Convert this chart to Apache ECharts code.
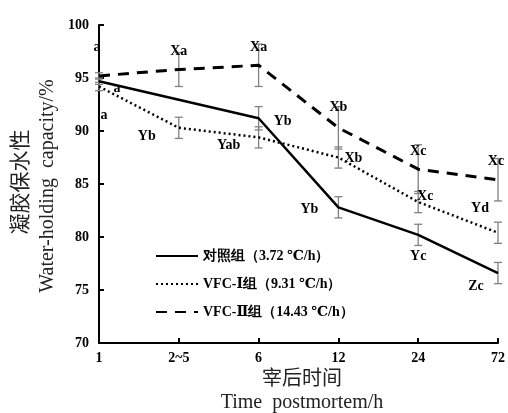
<!DOCTYPE html>
<html><head><meta charset="utf-8">
<script src="https://cdn.jsdelivr.net/npm/echarts@6/dist/echarts.min.js"></script>
<style>html,body{margin:0;padding:0;background:#fff}#c{width:508px;height:413px}</style>
</head><body><div id="c"></div>
<script>
const categories = ['1', '2~5', '6', '12', '24', '72'];
const seriesNames = ['对照组（3.72 ℃/h）', 'VFC-Ⅰ组（9.31 ℃/h）', 'VFC-Ⅱ组（14.43 ℃/h）'];
const controlVals = [94.7, null, 91.2, 82.8, 80.2, 76.6];
const controlErr  = [0.3, null, 1.1, 1.0, 1.0, 1.0];
const vfc1Vals = [94.2, 90.3, 89.4, 87.5, 83.3, 80.4];
const vfc1Err  = [0.4, 1.0, 1.0, 1.0, 1.0, 1.0];
const vfc2Vals = [95.2, 95.8, 96.2, 90.3, 86.4, 85.4];
const vfc2Err  = [0.3, 1.6, 2.0, 2.0, 2.3, 2.0];
const yTicks = [70, 75, 80, 85, 90, 95, 100];
// annotation letters: [category index, y value, text, pixel dx]
const annotations = [
  [0, 97.9, 'a', -2], [0, 94.0, 'a', 18], [0, 91.5, 'a', 5],
  [1, 97.5, 'Xa', 0], [1, 89.5, 'Yb', -32],
  [2, 97.9, 'Xa', 0], [2, 88.6, 'Yab', -30], [2, 90.9, 'Yb', 24],
  [3, 92.2, 'Xb', 0], [3, 87.4, 'Xb', 15], [3, 82.6, 'Yb', -29],
  [4, 88.1, 'Xc', 0], [4, 83.8, 'Xc', 7], [4, 78.2, 'Yc', 0],
  [5, 87.1, 'Xc', -2], [5, 82.7, 'Yd', -18], [5, 75.3, 'Zc', -22]
];

const serif = '"Liberation Serif","DejaVu Serif",serif';
const chart = echarts.init(document.getElementById('c'));

function errData(vals, errs) {
  const out = [];
  vals.forEach((v, i) => { if (v != null && errs[i] != null) out.push([i, v - errs[i], v + errs[i]]); });
  return out;
}
function errSeries(vals, errs) {
  return {
    type: 'custom', silent: true, z: 1,
    data: errData(vals, errs),
    renderItem: (params, api) => {
      const lo = api.coord([api.value(0), api.value(1)]);
      const hi = api.coord([api.value(0), api.value(2)]);
      const w = 4;
      const st = { stroke: '#808080', lineWidth: 1.3 };
      return { type: 'group', children: [
        { type: 'line', shape: { x1: lo[0], y1: lo[1], x2: hi[0], y2: hi[1] }, style: st },
        { type: 'line', shape: { x1: lo[0] - w, y1: lo[1], x2: lo[0] + w, y2: lo[1] }, style: st },
        { type: 'line', shape: { x1: hi[0] - w, y1: hi[1], x2: hi[0] + w, y2: hi[1] }, style: st }
      ]};
    }
  };
}

chart.setOption({
  animation: false,
  grid: { left: 99, right: 8, top: 25, bottom: 70, containLabel: false },
  legend: {
    orient: 'vertical', left: 150, top: 244, itemGap: 14, itemWidth: 42, itemHeight: 14,
    data: seriesNames,
    itemStyle: { opacity: 0 },
    textStyle: { fontFamily: serif, fontWeight: 'bold', fontSize: 14, color: '#000' }
  },
  xAxis: {
    type: 'category', data: categories, boundaryGap: false,
    axisLine: { lineStyle: { color: '#000', width: 2 } },
    axisTick: { inside: true, length: 5, lineStyle: { color: '#000', width: 2 } },
    axisLabel: { fontFamily: serif, fontWeight: 'bold', fontSize: 14, color: '#000', margin: 8 },
    splitLine: { show: false }
  },
  yAxis: {
    type: 'value', min: 70, max: 100, interval: 5,
    axisLine: { show: true, lineStyle: { color: '#000', width: 2 } },
    axisTick: { show: true, inside: true, length: 5, lineStyle: { color: '#000', width: 2 } },
    axisLabel: { fontFamily: serif, fontWeight: 'bold', fontSize: 14, color: '#000', margin: 10 },
    splitLine: { show: false }
  },
  graphic: [
    { type: 'text', rotation: Math.PI / 2, x: 19, y: 182, style: { text: '凝胶保水性', font: '21px "Noto Sans CJK SC"', fill: '#222', align: 'center', verticalAlign: 'middle' } },
    { type: 'text', rotation: Math.PI / 2, x: 48, y: 186, style: { text: 'Water-holding  capacity/%', font: '20px "Liberation Serif"', fill: '#222', align: 'center', verticalAlign: 'middle' } },
    { type: 'text', x: 302, y: 377, style: { text: '宰后时间', font: '20px "Noto Sans CJK SC"', fill: '#222', align: 'center', verticalAlign: 'middle' } },
    { type: 'text', x: 302, y: 403, style: { text: 'Time  postmortem/h', font: '20px "Liberation Serif"', fill: '#222', align: 'center', verticalAlign: 'middle' } }
  ],
  series: [
    errSeries(controlVals, controlErr),
    errSeries(vfc1Vals, vfc1Err),
    errSeries(vfc2Vals, vfc2Err),
    { name: seriesNames[0], type: 'line', data: controlVals, connectNulls: true, symbol: 'none', z: 3,
      lineStyle: { color: '#000', width: 2.5, type: 'solid' }, itemStyle: { color: '#000' } },
    { name: seriesNames[1], type: 'line', data: vfc1Vals, symbol: 'none', z: 3,
      lineStyle: { color: '#000', width: 2.5, type: [2, 3] }, itemStyle: { color: '#000' } },
    { name: seriesNames[2], type: 'line', data: vfc2Vals, symbol: 'none', z: 3,
      lineStyle: { color: '#000', width: 3, type: [11, 8] }, itemStyle: { color: '#000' } },
    { type: 'custom', silent: true, z: 5,
      data: annotations,
      renderItem: (params, api) => {
        const p = api.coord([api.value(0), api.value(1)]);
        const a = annotations[params.dataIndex];
        return { type: 'text', x: p[0] + a[3], y: p[1],
          style: { text: a[2], font: 'bold 14px "Liberation Serif"', fill: '#000', align: 'center', verticalAlign: 'middle' } };
      }
    }
  ]
});
</script></body></html>
